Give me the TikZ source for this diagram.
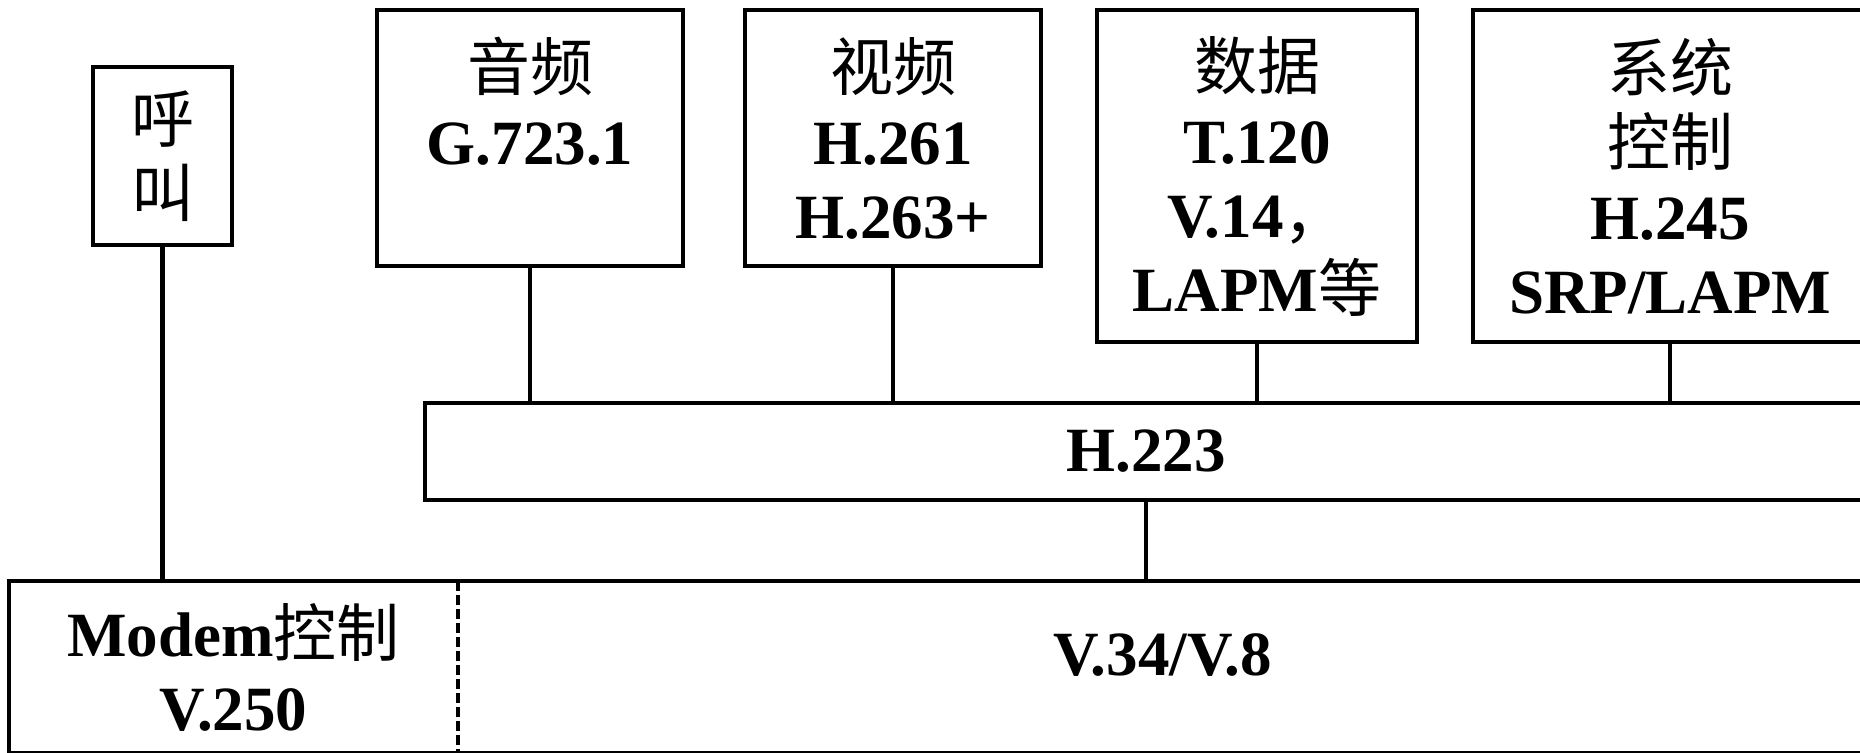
\documentclass[tikz,border=0pt]{standalone}
\usepackage{fontspec}
\setmainfont{Liberation Serif}
\newfontfamily\cjk{Noto Sans CJK SC}
\newcommand{\zh}[1]{{\cjk\mdseries #1}}

\begin{document}
\begin{tikzpicture}[x=0.5pt, y=-0.5pt,
	box/.style={draw, line width=2.3pt, align=center, inner sep=0pt},
	txt/.style={align=center, inner sep=0pt},
	wire/.style={line width=2.3pt},
	font=\bfseries\fontsize{31.5}{37}\selectfont]
	\useasboundingbox (0,0) rectangle (1860,752);
	\clip (0,0) rectangle (1860,752);
% draw upper boxes
	\node[box, minimum width=69.5pt, minimum height=89pt] (call) at (162.5,156) {\zh{呼}\\\zh{叫}};
	\node[box, minimum width=153pt, minimum height=128pt] (audio) at (530,138) {\zh{音频}\\G.723.1\\\phantom{H}};
	\node[box, minimum width=148pt, minimum height=128pt] (video) at (893,138) {\zh{视频}\\H.261\\H.263+};
	\node[box, minimum width=160pt, minimum height=166pt] (data) at (1257,176) {\zh{数据}\\T.120\\V.14\zh{，}\\LAPM\zh{等}};
	\node[box, minimum width=197pt, minimum height=166pt] (sys) at (1670,176) {\zh{系统}\\\zh{控制}\\H.245\\SRP/LAPM};
% draw H.223 layer
	\node[box, minimum width=721pt, minimum height=48.5pt] (h223) at (1146,451.5) {H.223};
% draw modem layer
	\node[box, minimum width=929pt, minimum height=86pt] (base) at (938,667) {};
	\coordinate (cut) at (458,581);
	\draw[line width=2pt, dash pattern=on 5pt off 2pt] (cut) -- (cut |- base.south);
	\node[txt] (modem) at (233.5,667) {Modem\zh{控制}\\V.250};
	\node[txt] (v34) at (1162.5,655) {V.34/V.8};
% draw connectors
	\draw[wire] (call.south) -- (call.south |- base.north);
	\foreach \n in {audio, video, data, sys}
		\draw[wire] (\n.south) -- (\n.south |- h223.north);
	\draw[wire] (h223.south) -- (h223.south |- base.north);
\end{tikzpicture}
\end{document}
